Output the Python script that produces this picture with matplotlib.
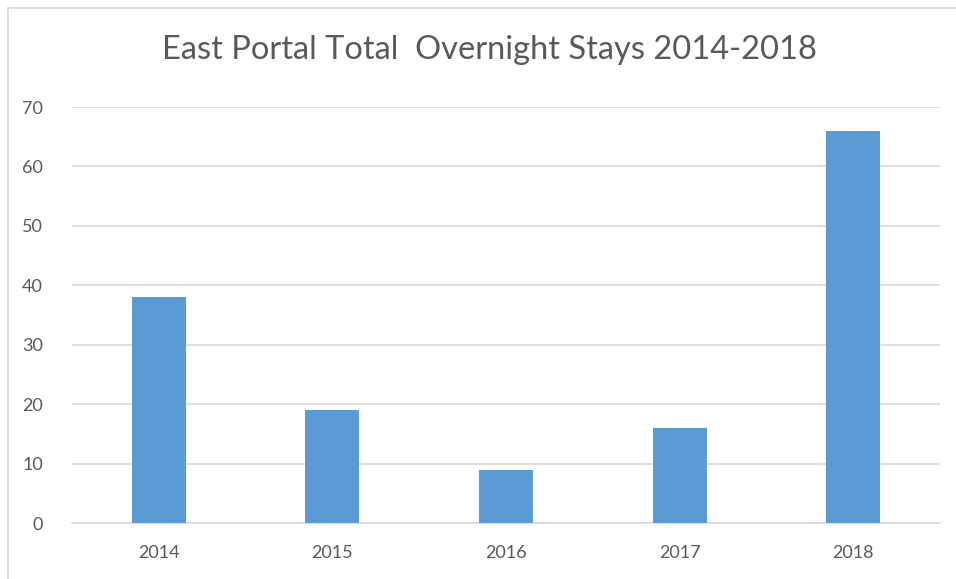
import matplotlib.pyplot as plt
from matplotlib.lines import Line2D

# data
years = ['2014', '2015', '2016', '2017', '2018']
stays = [38, 19, 9, 16, 66]

W, H = 956, 579
fig = plt.figure(figsize=(W / 100, H / 100), dpi=100)
plt.rcParams['font.family'] = ['Lato', 'DejaVu Sans']

# plot area in pixels: x 72..940, y 107..523
ax = fig.add_axes([72 / W, 1 - 523 / H, (940 - 72) / W, (523 - 107) / H])
ax.bar(range(len(years)), stays, width=0.31, color='#5b9bd5', zorder=3)
ax.set_xlim(-0.5, len(years) - 0.5)
ax.set_ylim(0, 70)
ax.set_yticks(range(0, 71, 10))
ax.set_xticks(range(len(years)))
ax.set_xticklabels(years)
ax.yaxis.grid(True, color='#d9d9d9', linewidth=1.2, zorder=0)
for s in ['top', 'right', 'left']:
    ax.spines[s].set_visible(False)
ax.spines['bottom'].set_color('#d9d9d9')
ax.spines['bottom'].set_linewidth(1.2)
ax.tick_params(axis='both', length=0, labelsize=13, labelcolor='#595959')
ax.tick_params(axis='y', pad=21)
ax.tick_params(axis='x', pad=16)

fig.text(489 / W, 1 - 50 / H, 'East Portal Total  Overnight Stays 2014-2018',
         ha='center', va='center', fontsize=23.5, color='#595959')

# chart frame (cropped on right and bottom)
fig.add_artist(Line2D([8 / W, 8 / W], [0, 1 - 8 / H], transform=fig.transFigure,
                      color='#d9d9d9', linewidth=1.2))
fig.add_artist(Line2D([8 / W, 1], [1 - 8 / H, 1 - 8 / H], transform=fig.transFigure,
                      color='#d9d9d9', linewidth=1.2))

fig.savefig('out.png', dpi=100)
